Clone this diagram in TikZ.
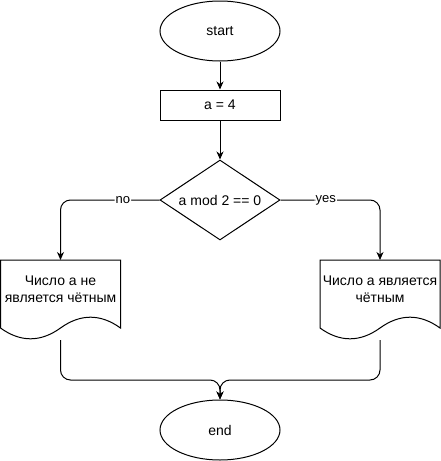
\documentclass[tikz,border=0pt]{standalone}
\usepackage{fontspec}
\setmainfont{Liberation Sans}
\usetikzlibrary{arrows.meta,shapes.geometric,calc}
\begin{document}
\begin{tikzpicture}[x=1pt,y=-1pt,line width=1pt,
  every node/.style={font=\fontsize{14}{17}\selectfont},
  term/.style={ellipse,draw,minimum width=120pt,minimum height=60pt,inner sep=0pt},
  proc/.style={rectangle,draw,minimum width=120pt,minimum height=30pt,inner sep=0pt},
  decision/.style={diamond,draw,minimum width=120pt,minimum height=80pt,inner sep=0pt,aspect=1.5},
  docframe/.style={minimum width=120pt,minimum height=80pt,inner sep=0pt,outer sep=0pt},
  doctext/.style={align=center,inner sep=0pt},
  flow/.style={-{Stealth[length=8pt,width=7pt,inset=2.5pt]},rounded corners=10pt},
  lbl/.style={fill=white,inner sep=1pt,font=\fontsize{13}{15}\selectfont}]
\useasboundingbox (0,0) rectangle (441,461);

\node[term] (start) at (220,31) {start};
\node[proc] (init) at (220,105) {a = 4};
\node[decision] (cond) at (220,200) {a mod 2 == 0};

\node[docframe] (dno) at (60.5,300) {};
\draw (dno.north west) -- (dno.north east) -- ($(dno.north east)+(0,68)$)
  .. controls +(-20,-14.4) and +(20,-14.4) .. ($(dno.north)+(0,68)$)
  .. controls +(-20,14.4) and +(20,14.4) .. ($(dno.north west)+(0,68)$) -- cycle;
\node[doctext] (tno) at (60.5,289.5) {Число а не\\является чётным};

\node[docframe] (dyes) at (380,300) {};
\draw (dyes.north west) -- (dyes.north east) -- ($(dyes.north east)+(0,68)$)
  .. controls +(-20,-14.4) and +(20,-14.4) .. ($(dyes.north)+(0,68)$)
  .. controls +(-20,14.4) and +(20,14.4) .. ($(dyes.north west)+(0,68)$) -- cycle;
\node[doctext] (tyes) at (380,289.5) {Число а является\\чётным};

\node[term] (stop) at (220,430) {end};
\coordinate (join) at (220,380);

\draw[flow] (start) -- (init);
\draw[flow] (init) -- (cond);
\draw[flow] (cond.west) -| node[lbl,pos=0.185] {no} (dno.north);
\draw[flow] (cond.east) -| node[lbl,pos=0.2275] {yes} (dyes.north);
\draw[flow] (dno.south) |- (join) -- (stop.north);
\draw[flow] (dyes.south) |- (join) -- (stop.north);
\end{tikzpicture}
\end{document}
